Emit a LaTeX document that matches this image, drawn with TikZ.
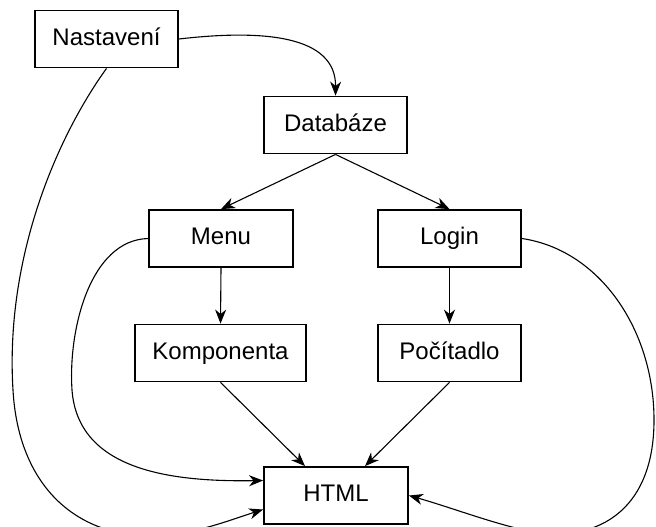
\documentclass[tikz,border=0pt]{standalone}
\usepackage{fontspec}
\setmainfont{Liberation Sans}
\usetikzlibrary{arrows.meta}
\tikzset{
  box/.style={draw, line width=0.9pt, inner sep=0pt, minimum height=28.5pt, minimum width=71.5pt, text height=8.8pt, text depth=2.4pt, font=\fontsize{12pt}{14pt}\selectfont},
  conn/.style={line width=0.55pt, -{Stealth[length=7pt,width=5.5pt,inset=2.2pt]}}
}
\begin{document}
\begin{tikzpicture}[x=0.5pt,y=-0.5pt]
\useasboundingbox (0,0) rectangle (656,526);
\clip (0,0) rectangle (656,526);
\node[box] (nast) at (106.5,39) {Nastavení};
\node[box] (db) at (335.5,125) {Databáze};
\node[box, minimum width=72pt] (menu) at (221,238.5) {Menu};
\node[box] (login) at (449.5,238.5) {Login};
\node[box, minimum width=85.5pt] (komp) at (220.5,353) {Komponenta};
\node[box] (poc) at (449.5,353) {Počítadlo};
\node[box, minimum width=72pt] (html) at (336,495.5) {HTML};

\draw[conn] (nast.east) .. controls (265,29) and (336,36) .. (db.north);
\draw[conn] (db.south) -- (menu.north);
\draw[conn] (db.south) -- (login.north);
\draw[conn] (menu.south) -- (komp.north);
\draw[conn] (login.south) -- (poc.north);
\draw[conn] (komp.south) -- ([xshift=-15.5pt]html.north);
\draw[conn] (poc.south) -- ([xshift=14.5pt]html.north);
\draw[conn] (menu.west) .. controls (90,240) and (68,330) .. (72,390)
  .. controls (78,470) and (170,482) .. ([yshift=7.5pt]html.west);
\draw[conn] (nast.south) .. controls (55,140) and (5,260) .. (13,390)
  .. controls (18,480) and (70,535) .. (150,536)
  .. controls (190,536) and (230,520) .. ([yshift=-7pt]html.west);
\draw[conn] (login.east) .. controls (600,250) and (654,330) .. (654,420)
  .. controls (654,500) and (610,534) .. (555,534)
  .. controls (520,534) and (460,510) .. (html.east);
\end{tikzpicture}
\end{document}
